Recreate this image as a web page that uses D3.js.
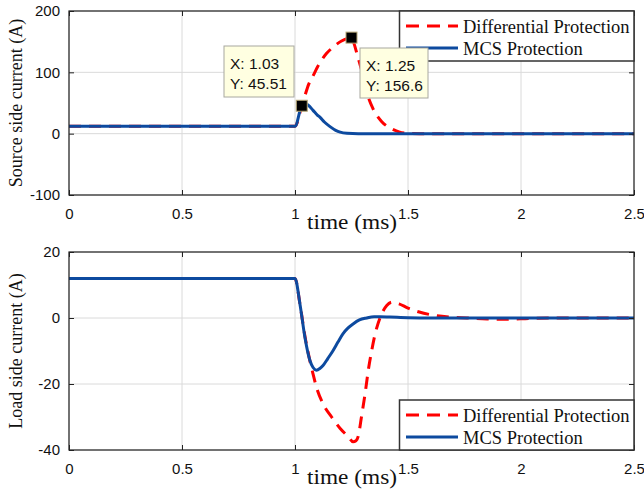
<!DOCTYPE html>
<html><head><meta charset="utf-8">
<script src="https://cdn.jsdelivr.net/npm/d3@7"></script>
<style>body{margin:0;background:#fff}svg{display:block}</style>
</head><body><svg id="c" width="644" height="500"></svg>
<script>
// ---- data ----
const xTicks = [0, 0.5, 1, 1.5, 2, 2.5];
const xTickLabels = ["0", "0.5", "1", "1.5", "2", "2.5"];
const srcTicks = [-100, 0, 100, 200];
const loadTicks = [-40, -20, 0, 20];
const seriesNames = ["Differential Protection", "MCS Protection"];

const srcDiffT = [0, 1.0, 1.03, 1.044, 1.06, 1.081, 1.1, 1.118, 1.14, 1.162, 1.185, 1.206, 1.23, 1.25, 1.262, 1.275, 1.295, 1.317, 1.346, 1.383, 1.427, 1.46, 1.5, 1.55, 2.5];
const srcDiffV = [12, 12, 45.5, 62, 80, 95, 109, 120, 131, 139, 146, 151, 155, 156.6, 146, 129, 103, 68, 40, 20, 8, 3, 0.5, 0, 0];
const srcMcsT = [0, 1.0, 1.03, 1.045, 1.06, 1.08, 1.1, 1.11, 1.13, 1.155, 1.18, 1.2, 1.23, 1.28, 2.5];
const srcMcsV = [12, 12, 45.5, 49, 46, 38, 30, 27, 19, 11.5, 5.5, 2.5, 0.7, 0, 0];

const loadDiffT = [0, 1.0, 1.022, 1.044, 1.066, 1.08, 1.095, 1.124, 1.162, 1.2, 1.236, 1.257, 1.27, 1.28, 1.294, 1.31, 1.324, 1.339, 1.354, 1.376, 1.406, 1.43, 1.46, 1.5, 1.55, 1.6, 1.68, 1.76, 1.85, 1.93, 2.05, 2.2, 2.5];
const loadDiffV = [12, 12, 4.2, -5.5, -13, -17, -21, -26, -30, -33.5, -36, -37.5, -37.2, -35.8, -30, -23, -16, -10, -5, 0, 3.8, 4.8, 4.3, 3.0, 1.8, 1.0, 0.3, 0, -0.3, -0.4, -0.1, 0, 0];
const loadMcsT = [0, 1.0, 1.022, 1.044, 1.066, 1.08, 1.095, 1.11, 1.124, 1.145, 1.168, 1.19, 1.212, 1.235, 1.257, 1.285, 1.316, 1.35, 1.376, 1.42, 1.5, 1.6, 2.5];
const loadMcsV = [12, 12, 4.2, -5.9, -12.9, -15, -15.8, -15.3, -14.4, -12.3, -9.9, -7.3, -4.8, -3, -1.8, -0.6, 0, 0.4, 0.4, 0.3, 0.1, 0, 0];

const tipPoints = [{x: 1.03, y: 45.51}, {x: 1.25, y: 156.6}];

// ---- drawing ----
const svg = d3.select("#c");
const L = 69, R = 634;
const RED = "#ff0000", BLUE = "#0d4a9f";
const serif = "'Liberation Serif','Times New Roman',serif";
const sans = "'Liberation Sans',Arial,sans-serif";

const x = d3.scaleLinear().domain([0, 2.5]).range([L, R]);

function panel(top, bottom, yDomain, yTicks, series, yLabel, legendTop) {
  const y = d3.scaleLinear().domain(yDomain).range([bottom, top]);
  const g = svg.append("g");
  // grid
  g.selectAll(".gx").data(xTicks).enter().append("line")
    .attr("x1", d => x(d)).attr("x2", d => x(d)).attr("y1", top).attr("y2", bottom)
    .attr("stroke", "#dadada").attr("stroke-width", 1);
  g.selectAll(".gy").data(yTicks).enter().append("line")
    .attr("x1", L).attr("x2", R).attr("y1", d => y(d)).attr("y2", d => y(d))
    .attr("stroke", "#dadada").attr("stroke-width", 1);
  // series
  const line = d3.line().x(d => x(d[0])).y(d => y(d[1])).curve(d3.curveMonotoneX);
  series.forEach(s => {
    const pts = s.t.map((t, i) => [t, s.v[i]]);
    g.append("path").attr("d", line(pts)).attr("fill", "none")
      .attr("stroke", s.color).attr("stroke-width", 3)
      .attr("stroke-dasharray", s.dash ? "12,8" : null)
      .attr("stroke-linejoin", "round");
  });
  // axes with inward ticks
  const ax = g.append("g").attr("transform", `translate(0,${bottom})`)
    .call(d3.axisBottom(x).tickValues(xTicks).tickFormat((d, i) => xTickLabels[i]).tickSizeInner(-5).tickSizeOuter(0).tickPadding(13));
  const axT = g.append("g").attr("transform", `translate(0,${top})`)
    .call(d3.axisTop(x).tickValues(xTicks).tickFormat("").tickSizeInner(-5).tickSizeOuter(0));
  const ay = g.append("g").attr("transform", `translate(${L},0)`)
    .call(d3.axisLeft(y).tickValues(yTicks).tickFormat(d => String(d)).tickSizeInner(-5).tickSizeOuter(0).tickPadding(9));
  const ayR = g.append("g").attr("transform", `translate(${R},0)`)
    .call(d3.axisRight(y).tickValues(yTicks).tickFormat("").tickSizeInner(-5).tickSizeOuter(0));
  [ax, axT, ay, ayR].forEach(a => {
    a.select(".domain").remove();
    a.selectAll("line").attr("stroke", "#222");
    a.selectAll("text").attr("font-family", sans).attr("font-size", 15).attr("fill", "#111");
  });
  g.append("rect").attr("x", L).attr("y", top).attr("width", R - L).attr("height", bottom - top)
    .attr("fill", "none").attr("stroke", "#222").attr("stroke-width", 1.2);
  // y label
  g.append("text").attr("transform", `translate(22,${(top + bottom) / 2}) rotate(-90)`)
    .attr("text-anchor", "middle").attr("font-family", serif).attr("font-size", 18).attr("fill", "#111")
    .text(yLabel);
  // x label
  g.append("text").attr("x", 352).attr("y", bottom + 34).attr("text-anchor", "middle")
    .attr("font-family", serif).attr("font-size", 22).attr("fill", "#111")
    .attr("textLength", 90).attr("lengthAdjust", "spacingAndGlyphs").text("time (ms)");
  // legend
  const lg = g.append("g");
  lg.append("rect").attr("x", 399.5).attr("y", legendTop).attr("width", R - 399.5).attr("height", 50)
    .attr("fill", "#fff").attr("stroke", "#333").attr("stroke-width", 1.5);
  series.forEach((s, i) => {
    const yy = legendTop + 15 + i * 22;
    lg.append("line").attr("x1", 406).attr("x2", 458).attr("y1", yy).attr("y2", yy)
      .attr("stroke", s.color).attr("stroke-width", 3).attr("stroke-dasharray", s.dash ? "13,8" : null);
    lg.append("text").attr("x", 463).attr("y", yy + 7).attr("font-family", serif).attr("font-size", 18.5)
      .attr("fill", "#111").text(s.name);
  });
  return y;
}

const ySrc = panel(11, 195, [-100, 200], srcTicks, [
  {t: srcDiffT, v: srcDiffV, color: RED, dash: true, name: seriesNames[0]},
  {t: srcMcsT, v: srcMcsV, color: BLUE, dash: false, name: seriesNames[1]}
], "Source side current (A)", 11);

panel(252, 450, [-40, 20], loadTicks, [
  {t: loadDiffT, v: loadDiffV, color: RED, dash: true, name: seriesNames[0]},
  {t: loadMcsT, v: loadMcsV, color: BLUE, dash: false, name: seriesNames[1]}
], "Load side current (A)", 400);

// data tips
const tipBoxes = [{x: 224, y: 46, w: 70, h: 51}, {x: 360, y: 48, w: 68, h: 50}];
tipPoints.forEach((p, i) => {
  const b = tipBoxes[i];
  const tg = svg.append("g");
  tg.append("rect").attr("x", b.x).attr("y", b.y).attr("width", b.w).attr("height", b.h)
    .attr("fill", "#ffffe1").attr("stroke", "#a8a8a0").attr("stroke-width", 1);
  tg.append("text").attr("x", b.x + 6).attr("y", b.y + 23).attr("font-family", sans).attr("font-size", 15.5)
    .attr("fill", "#111").text("X: " + p.x);
  tg.append("text").attr("x", b.x + 6).attr("y", b.y + 43).attr("font-family", sans).attr("font-size", 15.5)
    .attr("fill", "#111").text("Y: " + p.y);
  tg.append("rect").attr("x", x(p.x) - 5.5).attr("y", ySrc(p.y) - 5.5).attr("width", 11).attr("height", 11)
    .attr("fill", "#000").attr("stroke", "#b8a878").attr("stroke-width", 1);
});
</script></body></html>
